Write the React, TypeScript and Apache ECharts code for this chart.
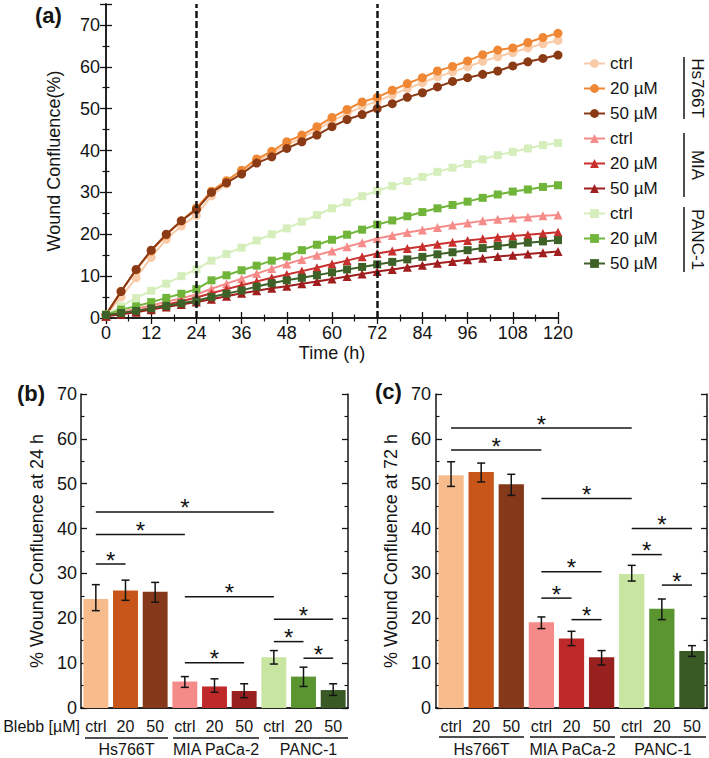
import React, { useEffect, useRef } from "react";
import * as echarts from "echarts";

// ---------- DATA ----------
const hours = [0,4,8,12,16,20,24,28,32,36,40,44,48,52,56,60,64,68,72,76,80,84,88,92,96,100,104,108,112,116,120];

const hsCtrl = [0.6,5.0,9.6,14.5,18.8,22.0,24.5,29.2,32.0,34.8,37.5,39.3,41.3,43.0,45.0,47.0,48.8,50.5,51.8,53.3,54.8,56.2,57.6,58.8,60.0,61.3,62.4,63.4,64.5,65.5,66.3];
const hs20 = [0.8,6.4,11.5,16.0,19.8,23.2,26.3,30.3,32.8,35.3,38.0,39.8,42.1,43.7,45.7,47.9,49.8,51.6,52.7,54.4,56.0,57.4,59.0,60.1,61.4,62.9,64.0,64.5,65.8,67.0,68.0];
const hs50 = [0.8,6.3,11.6,16.2,20.0,23.2,25.9,30.0,32.3,34.4,37.0,38.5,40.5,42.1,43.7,45.7,47.4,48.6,50.0,51.2,52.7,53.8,55.2,56.5,57.4,58.2,59.0,60.2,61.2,62.0,62.8];
const miaCtrl = [0.5,1.4,2.2,3.0,3.9,4.7,5.6,7.0,8.2,9.4,10.6,11.8,12.9,14.0,15.0,16.0,17.0,18.0,19.0,19.7,20.4,21.0,21.6,22.2,22.7,23.2,23.6,23.9,24.1,24.4,24.6];
const mia20 = [0.5,1.1,1.7,2.4,3.2,4.0,4.9,5.9,6.9,7.8,8.7,9.6,10.4,11.2,12.0,12.9,13.7,14.6,15.4,16.0,16.6,17.1,17.6,18.1,18.5,18.9,19.3,19.6,19.9,20.2,20.5];
const mia50 = [0.4,0.9,1.4,2.0,2.6,3.2,3.8,4.5,5.2,5.9,6.5,7.1,7.6,8.2,8.7,9.3,9.9,10.5,11.1,11.6,12.1,12.6,13.1,13.5,13.9,14.3,14.7,15.0,15.3,15.6,15.9];
const pancCtrl = [0.8,2.8,4.8,6.5,8.2,10.0,11.6,13.7,15.3,16.8,18.5,20.0,21.4,23.0,24.6,26.2,27.6,29.1,30.4,31.5,32.7,33.7,34.9,35.9,36.8,37.9,38.9,39.7,40.5,41.3,41.8];
const panc20 = [0.8,2.0,2.8,3.8,4.8,5.8,6.9,9.0,10.2,11.4,12.5,13.7,14.7,16.2,17.5,18.7,19.9,21.1,22.3,23.3,24.3,25.3,26.2,27.0,27.8,28.7,29.5,30.2,30.7,31.3,31.7];
const panc50 = [0.7,1.2,1.7,2.3,2.9,3.5,4.1,5.0,5.8,6.6,7.5,8.3,9.0,9.6,10.2,10.9,11.6,12.2,12.8,13.4,14.0,14.6,15.2,15.7,16.2,16.7,17.2,17.6,18.0,18.3,18.6];

const seriesNames = ["Hs766T|ctrl","Hs766T|20 µM","Hs766T|50 µM","MIA|ctrl","MIA|20 µM","MIA|50 µM","PANC-1|ctrl","PANC-1|20 µM","PANC-1|50 µM"];
const seriesValues = [hsCtrl, hs20, hs50, miaCtrl, mia20, mia50, pancCtrl, panc20, panc50];
const markerLines = [24, 72];

const barCats = ["Hs766T|ctrl","Hs766T|20","Hs766T|50","MIA PaCa-2|ctrl","MIA PaCa-2|20","MIA PaCa-2|50","PANC-1|ctrl","PANC-1|20","PANC-1|50"];
const groupNames = ["Hs766T","MIA PaCa-2","PANC-1"];

const b24 = [24.3,26.2,25.9,5.9,4.8,3.8,11.3,7.0,4.0];
const b24Lo = [21.7,24.0,23.6,4.6,3.5,2.3,9.8,4.8,2.8];
const b24Hi = [27.5,28.5,28.0,7.0,6.5,5.4,12.8,9.1,5.4];
const c72 = [51.9,52.6,49.9,19.1,15.5,11.3,29.9,22.1,12.7];
const c72Lo = [49.4,50.4,47.4,17.7,13.9,9.6,28.3,19.7,11.5];
const c72Hi = [54.9,54.6,52.1,20.3,17.1,12.8,31.8,24.3,13.9];

// significance brackets: [fromIndex, toIndex, level]
const sig24 = [[0,6,43.7],[0,3,38.7],[0,1,32.1],[3,6,24.8],[3,5,10.1],[6,8,19.8],[6,7,14.8],[7,8,11.1]];
const sig72 = [[0,6,62.4],[0,3,57.5],[3,6,46.7],[6,8,40.0],[6,7,34.2],[3,5,30.4],[3,4,24.5],[4,5,19.7],[7,8,27.4]];

// ---------- STYLE ----------
const FONT = "'Liberation Sans', Arial, sans-serif";
const INK = "#141414";
const curveColors = ["#F9CBA8","#EF8734","#8A3A15","#F58C8A","#C8302D","#A01E1E","#D5EEBB","#70B53A","#3E6128"];
const curveSymbols = ["circle","circle","circle","triangle","triangle","triangle","rect","rect","rect"];
const curveSymbolSizes = [9,9,9,9,9,9,8,8,8];
const barColors = ["#F8BC8C","#C8561A","#86391A","#F58B88","#C0292A","#98201F","#C8E6A2","#5B9530","#3A5A25"];

const errorRender = (params: any, api: any) => {
  const x = api.value(0);
  const p1 = api.coord([x, api.value(1)]);
  const p2 = api.coord([x, api.value(2)]);
  const w = 4;
  const st = { stroke: INK, lineWidth: 1.5 };
  return {
    type: "group",
    children: [
      { type: "line", shape: { x1: p1[0], y1: p1[1], x2: p2[0], y2: p2[1] }, style: st },
      { type: "line", shape: { x1: p1[0] - w, y1: p1[1], x2: p1[0] + w, y2: p1[1] }, style: st },
      { type: "line", shape: { x1: p2[0] - w, y1: p2[1], x2: p2[0] + w, y2: p2[1] }, style: st },
    ],
  };
};

const sigRender = (params: any, api: any) => {
  const a = api.coord([api.value(0), api.value(2)]);
  const b = api.coord([api.value(1), api.value(2)]);
  return {
    type: "group",
    children: [
      { type: "line", shape: { x1: a[0], y1: a[1], x2: b[0], y2: b[1] }, style: { stroke: INK, lineWidth: 1.5 } },
      {
        type: "text",
        x: (a[0] + b[0]) / 2,
        y: a[1] - 4,
        style: { text: "*", font: `24px ${FONT}`, fill: INK, align: "center", verticalAlign: "middle" },
      },
    ],
  };
};

function valueMirror(gridIndex: number, extra: any) {
  return {
    gridIndex,
    ...extra,
    axisLabel: { show: false },
    splitLine: { show: false },
  };
}

export default function App() {
  const ref = useRef<HTMLDivElement>(null);
  useEffect(() => {
    if (!ref.current) return;
    const chart = echarts.init(ref.current, null, { renderer: "svg" });

    const axisLineStyle = { show: true, lineStyle: { color: INK, width: 1.5 } };
    const tickIn = { show: true, inside: true, length: 6, lineStyle: { color: INK, width: 1.3 } };
    const minorIn = { show: true, splitNumber: 2, length: 3.5, lineStyle: { color: INK, width: 1.2 } };
    const labelFont = { color: INK, fontSize: 18, fontFamily: FONT };
    const nameFont = { color: INK, fontSize: 18, fontFamily: FONT };

    const aX = {
      type: "value", min: 0, max: 120, interval: 12,
      axisLine: axisLineStyle, axisTick: tickIn, minorTick: minorIn,
      splitLine: { show: false },
    };
    const aY = {
      type: "value", min: 0, max: 75, interval: 10,
      axisLine: axisLineStyle, axisTick: tickIn, minorTick: minorIn,
      splitLine: { show: false },
    };
    const bY = {
      type: "value", min: 0, max: 70, interval: 10,
      axisLine: axisLineStyle, axisTick: tickIn, minorTick: minorIn,
      splitLine: { show: false },
    };

    const lineSeries = seriesNames.map((name, i) => ({
      type: "line",
      name,
      xAxisIndex: 0,
      yAxisIndex: 0,
      data: hours.map((h, j) => [h, seriesValues[i][j]]),
      symbol: curveSymbols[i],
      symbolSize: curveSymbolSizes[i],
      itemStyle: { color: curveColors[i] },
      lineStyle: { color: curveColors[i], width: 2 },
      z: 2 + i,
      ...(i === seriesNames.length - 1
        ? {
            markLine: {
              silent: true,
              symbol: "none",
              label: { show: false },
              lineStyle: { color: INK, type: [7, 3], width: 2.5 },
              data: markerLines.map((v) => ({ xAxis: v })),
              z: 20,
            },
          }
        : {}),
    }));

    const catLabel = {
      color: INK, fontSize: 16, fontFamily: FONT, margin: 10,
      formatter: (v: string) => v.split("|")[1],
      interval: 0,
    };

    const groupGraphics = (lines: number[][], lineY: number, textY: number) => {
      const out: any[] = [];
      lines.forEach((l, k) => {
        out.push({ type: "line", shape: { x1: l[0], y1: lineY, x2: l[1], y2: lineY }, style: { stroke: INK, lineWidth: 1.5 } });
        out.push({ type: "text", x: (l[0] + l[1]) / 2, y: textY, style: { text: groupNames[k], font: `16px ${FONT}`, fill: INK, align: "center", verticalAlign: "middle" } });
      });
      return out;
    };

    const legendGroups = [
      { name: "Hs766T", y1: 57, y2: 119 },
      { name: "MIA", y1: 133, y2: 197 },
      { name: "PANC-1", y1: 207, y2: 272 },
    ];

    const option: any = {
      animation: false,
      textStyle: { fontFamily: FONT },
      grid: [
        { left: 106, top: 4, width: 452, height: 314 },
        { left: 81, top: 394, width: 267, height: 314 },
        { left: 436, top: 394, width: 271, height: 314 },
      ],
      xAxis: [
        { ...aX, gridIndex: 0, name: "Time (h)", nameLocation: "middle", nameGap: 26, nameTextStyle: nameFont, axisLabel: { ...labelFont, margin: 6 } },
        valueMirror(0, { ...aX, position: "top" }),
        { type: "category", gridIndex: 1, data: barCats, axisLine: axisLineStyle, axisTick: { show: false }, axisLabel: catLabel },
        { type: "value", gridIndex: 1, position: "top", min: 0, max: 1, axisLine: axisLineStyle, axisTick: { show: false }, axisLabel: { show: false }, splitLine: { show: false } },
        { type: "category", gridIndex: 2, data: barCats, axisLine: axisLineStyle, axisTick: { show: false }, axisLabel: catLabel },
        { type: "value", gridIndex: 2, position: "top", min: 0, max: 1, axisLine: axisLineStyle, axisTick: { show: false }, axisLabel: { show: false }, splitLine: { show: false } },
      ],
      yAxis: [
        { ...aY, gridIndex: 0, name: "Wound Confluence(%)", nameLocation: "middle", nameGap: 43, nameTextStyle: nameFont, axisLabel: { ...labelFont, margin: 6, showMaxLabel: false } },
        valueMirror(0, { ...aY, position: "right" }),
        { ...bY, gridIndex: 1, name: "% Wound Confluence at 24 h", nameLocation: "middle", nameGap: 35, nameTextStyle: nameFont, axisLabel: { ...labelFont, margin: 4 } },
        valueMirror(1, { ...bY, position: "right" }),
        { ...bY, gridIndex: 2, name: "% Wound Confluence at 72 h", nameLocation: "middle", nameGap: 36, nameTextStyle: nameFont, axisLabel: { ...labelFont, margin: 5 } },
        valueMirror(2, { ...bY, position: "right" }),
      ],
      legend: {
        orient: "vertical",
        left: 583,
        top: 55,
        padding: 0,
        itemWidth: 21,
        itemHeight: 11,
        itemGap: 8,
        selectedMode: false,
        data: seriesNames,
        formatter: (n: string) => n.split("|")[1],
        textStyle: { color: INK, fontSize: 17, fontFamily: FONT },
      },
      series: [
        ...lineSeries,
        {
          type: "bar", xAxisIndex: 2, yAxisIndex: 2, barWidth: "84%",
          data: b24.map((v, i) => ({ value: v, itemStyle: { color: barColors[i] } })),
        },
        {
          type: "custom", xAxisIndex: 2, yAxisIndex: 2, renderItem: errorRender,
          data: b24.map((_, i) => [i, b24Lo[i], b24Hi[i]]), encode: { x: 0, y: [1, 2] }, z: 5,
        },
        {
          type: "custom", xAxisIndex: 2, yAxisIndex: 2, renderItem: sigRender,
          data: sig24, encode: { x: [0, 1], y: 2 }, z: 5,
        },
        {
          type: "bar", xAxisIndex: 4, yAxisIndex: 4, barWidth: "84%",
          data: c72.map((v, i) => ({ value: v, itemStyle: { color: barColors[i] } })),
        },
        {
          type: "custom", xAxisIndex: 4, yAxisIndex: 4, renderItem: errorRender,
          data: c72.map((_, i) => [i, c72Lo[i], c72Hi[i]]), encode: { x: 0, y: [1, 2] }, z: 5,
        },
        {
          type: "custom", xAxisIndex: 4, yAxisIndex: 4, renderItem: sigRender,
          data: sig72, encode: { x: [0, 1], y: 2 }, z: 5,
        },
      ],
      graphic: [
        { type: "text", x: 35, y: 15, style: { text: "(a)", font: `bold 22px ${FONT}`, fill: INK, verticalAlign: "middle" } },
        { type: "text", x: 17, y: 393, style: { text: "(b)", font: `bold 22px ${FONT}`, fill: INK, verticalAlign: "middle" } },
        { type: "text", x: 375, y: 391, style: { text: "(c)", font: `bold 22px ${FONT}`, fill: INK, verticalAlign: "middle" } },
        ...legendGroups.flatMap((g) => [
          { type: "line", shape: { x1: 684, y1: g.y1, x2: 684, y2: g.y2 }, style: { stroke: INK, lineWidth: 1.5 } },
          { type: "text", x: 697, y: (g.y1 + g.y2) / 2, rotation: -Math.PI / 2, style: { text: g.name, font: `17px ${FONT}`, fill: INK, align: "center", verticalAlign: "middle" } },
        ]),
        { type: "text", x: 80, y: 726, style: { text: "Blebb [µM]", font: `16px ${FONT}`, fill: INK, align: "right", verticalAlign: "middle" } },
        ...groupGraphics([[85, 168], [173, 259], [269, 348]], 738, 749),
        ...groupGraphics([[439, 524], [530, 615], [620, 706]], 737, 749),
      ],
    };
    chart.setOption(option);
    return () => chart.dispose();
  }, []);
  return <div ref={ref} style={{ position: "fixed", left: 0, top: 0, width: 709, height: 758, background: "#fff" }} />;
}
